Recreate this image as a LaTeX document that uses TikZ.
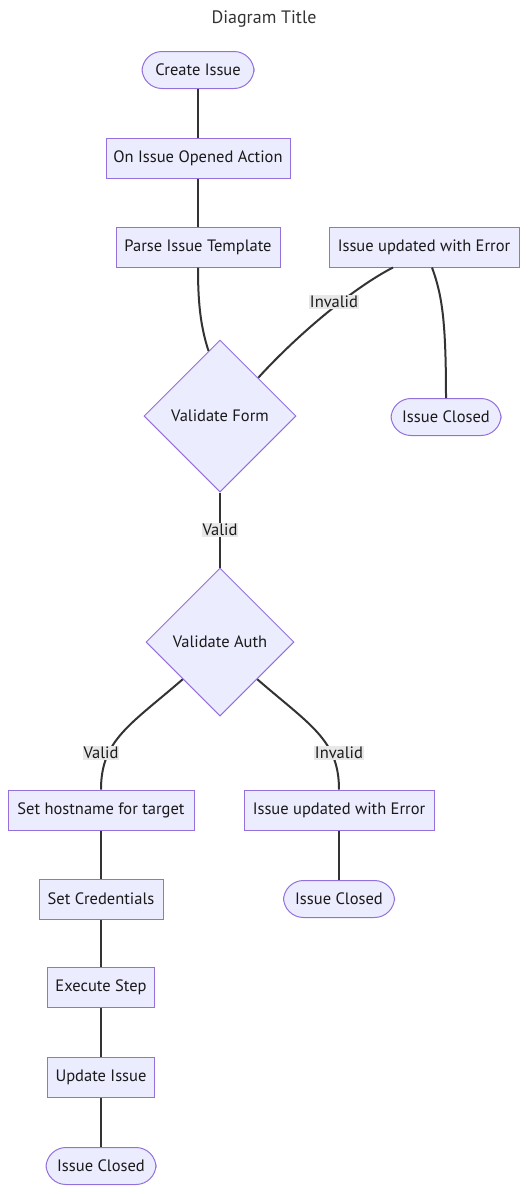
\documentclass[tikz,border=0pt]{standalone}
\usepackage{fontspec}
\setmainfont{PT Sans}
\usetikzlibrary{shapes.geometric}
\definecolor{nodefill}{HTML}{ECECFF}
\definecolor{nodeline}{HTML}{9370DB}
\definecolor{edgec}{HTML}{333333}
\definecolor{labelbg}{HTML}{E8E8E8}
\definecolor{textc}{HTML}{1A1A1A}
\tikzset{
  base/.style={draw=nodeline, fill=nodefill, line width=1pt, text=textc, font=\fontsize{16.5}{19}\selectfont, inner sep=0pt, align=center},
  boxn/.style={base, rectangle, minimum height=40pt},
  pill/.style={base, rectangle, rounded corners=20pt, minimum height=37pt},
  decision/.style={base, diamond, aspect=1},
  edge/.style={draw=edgec, line width=2pt},
  elabel/.style={fill=labelbg, text=textc, font=\fontsize{16.5}{19}\selectfont, inner sep=1pt},
}
\begin{document}
\begin{tikzpicture}[x=1pt,y=-1pt]
\useasboundingbox (0,0) rectangle (528,1194);
\node[text=edgec, font=\fontsize{18}{21}\selectfont] (title) at (264,19) {Diagram Title};

\node[pill, minimum width=112pt] (create) at (198,70) {Create Issue};
\node[boxn, minimum width=184pt] (opened) at (198,158) {On Issue Opened Action};
\node[boxn, minimum width=164pt] (parse) at (198,247) {Parse Issue Template};
\node[boxn, minimum width=190pt] (err1) at (424,247) {Issue updated with Error};
\node[decision, minimum width=152pt, minimum height=152pt] (vform) at (220,416) {Validate Form};
\node[pill, minimum width=110pt] (closed1) at (446,417) {Issue Closed};
\node[decision, minimum width=148pt, minimum height=148pt] (vauth) at (220,642) {Validate Auth};
\node[boxn, minimum width=186pt] (host) at (101,810) {Set hostname for target};
\node[boxn, minimum width=190pt] (err2) at (339,810) {Issue updated with Error};
\node[boxn, minimum width=124pt] (cred) at (101,899) {Set Credentials};
\node[pill, minimum width=111pt] (closed2) at (339,899) {Issue Closed};
\node[boxn, minimum width=107pt] (exec) at (101,987) {Execute Step};
\node[boxn, minimum width=107pt] (update) at (101,1077) {Update Issue};
\node[pill, minimum width=110pt] (closed3) at (101,1166) {Issue Closed};

\draw[edge] (create) -- (opened);
\draw[edge] (opened) -- (parse);
\draw[edge] (parse.south) .. controls (198,300) and (200,325) .. (vform.100);
\draw[edge] (vform.45) .. controls (300,332) and (355,287) .. ([xshift=-31pt]err1.south);
\draw[edge] ([xshift=8pt]err1.south) .. controls (442,295) and (446,320) .. (closed1.north);
\draw[edge] (vform) -- node[elabel] (lvalid1) {Valid} (vauth);
\draw[edge] (vauth.south west) .. controls (130,725) and (101,740) .. (host.north);
\draw[edge] (vauth.south east) .. controls (310,725) and (339,740) .. (err2.north);
\draw[edge] (host) -- (cred);
\draw[edge] (cred) -- (exec);
\draw[edge] (exec) -- (update);
\draw[edge] (update) -- (closed3);
\draw[edge] (err2) -- (closed2);

\node[elabel] (linvalid1) at (334,302) {Invalid};
\node[elabel] (lvalid2) at (101,753) {Valid};
\node[elabel] (linvalid2) at (339,753) {Invalid};
\end{tikzpicture}
\end{document}
